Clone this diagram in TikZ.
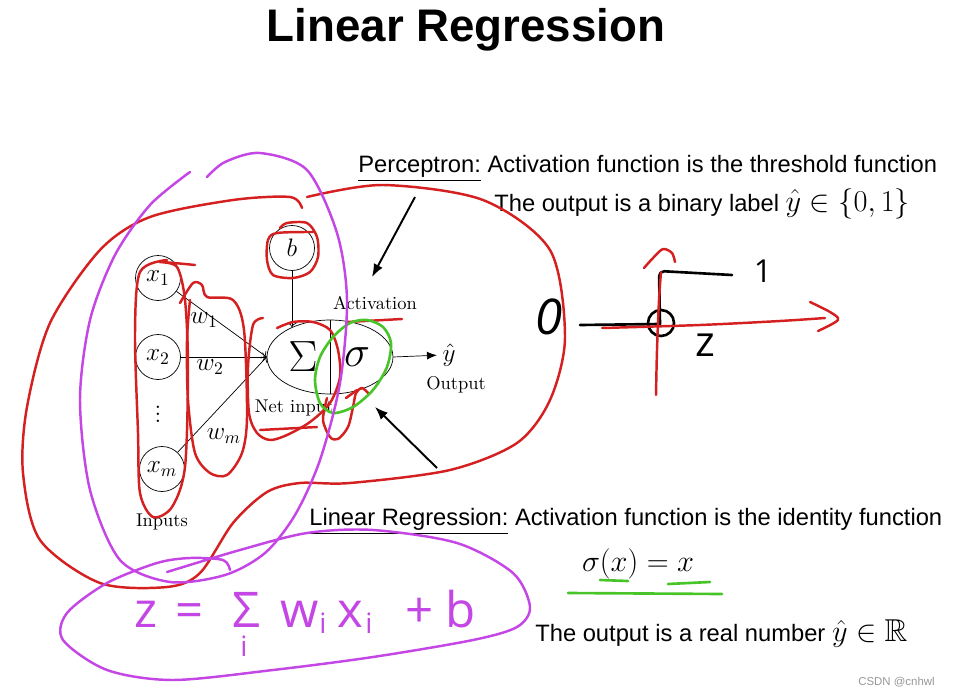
\documentclass[tikz,border=0pt]{standalone}
\usepackage{amssymb}
\usepackage{amsmath}
\usepackage{fontspec}
\usepackage{tikz}
\newfontfamily\slidefont{Liberation Sans}
\newfontfamily\handfont{Open Sans}
\usetikzlibrary{shapes.geometric,arrows.meta}
\definecolor{PenRed}{RGB}{212,32,32}
\definecolor{PenPurple}{RGB}{196,70,228}
\definecolor{PenGreen}{RGB}{72,196,40}
\definecolor{MarkGray}{RGB}{150,150,150}

\begin{document}
\begin{tikzpicture}[x=0.02cm,y=-0.02cm,inner sep=0pt,
  unit/.style={circle,draw=black,minimum size=0.9cm,font=\fontsize{14}{16}\selectfont},
  lbl/.style={font=\fontsize{10.5}{12}\selectfont},
  wlbl/.style={font=\fontsize{14}{16}\selectfont},
  slide/.style={anchor=base west,font=\slidefont\fontsize{13.5}{16}\selectfont},
  hand/.style={anchor=base,font=\handfont\fontsize{28}{30}\selectfont},
  handsub/.style={anchor=base,font=\handfont\fontsize{16}{18}\selectfont},
  redpen/.style={draw=PenRed,line width=1.4pt,line cap=round,line join=round},
  purplepen/.style={draw=PenPurple,line width=1.4pt,line cap=round,line join=round},
  greenpen/.style={draw=PenGreen,line width=1.5pt,line cap=round,line join=round},
  inkpen/.style={draw=black,line width=1.5pt,line cap=round,line join=round}]
\useasboundingbox (0,0) rectangle (956,696);
\node at (466,30) [font=\slidefont\bfseries\fontsize{26}{30}\selectfont] (Title) {Linear Regression};
\node at (358,172) [slide] (PercText) {\underline{Perceptron:} Activation function is the threshold function};
\node at (494,211) [slide] (PercOut) {The output is a binary label {\fontsize{19}{20}\selectfont$\hat{y}\in\{0,1\}$}};
\node at (309,525) [slide] (LinText) {\underline{Linear Regression:} Activation function is the identity function};
\node at (638,564) [font=\fontsize{17}{20}\selectfont] (Ident) {$\sigma(x)=x$};
\node at (535,641) [slide] (LinOut) {The output is a real number {\fontsize{18}{20}\selectfont$\hat{y}\in\mathbb{R}$}};
\node at (935,682) [anchor=east,text=MarkGray,font=\slidefont\fontsize{6.5}{8}\selectfont] (Mark) {CSDN @cnhwl};
\node at (158,278) [unit] (Input1) {$x_1$};
\node at (158,357) [unit] (Input2) {$x_2$};
\node at (158,409) [wlbl] (Dots) {$\vdots$};
\node at (162,469) [unit] (InputM) {$x_m$};
\node at (292,248) [unit] (Bias) {$b$};
\node at (330,357) [ellipse,draw=black,minimum width=2.52cm,minimum height=1.48cm] (Sum) {};
\node at (303,357) [font=\fontsize{30}{32}\selectfont] (SumSign) {$\Sigma$};
\node at (357,357) [font=\fontsize{34}{36}\selectfont] (Act) {$\sigma$};
\node at (449,355) [wlbl] (Yhat) {$\hat{y}$};
\node at (375,303) [lbl] (ActLabel) {Activation};
\node at (294,408) [lbl] (NetLabel) {Net input};
\node at (456,385) [lbl] (OutLabel) {Output};
\node at (162,522) [lbl] (InLabel) {Inputs};
\node at (204,320) [wlbl] (W1) {$w_1$};
\node at (210,367) [wlbl] (W2) {$w_2$};
\node at (224,436) [wlbl] (WM) {$w_m$};
\draw (Sum.north) -- (Sum.south);
\draw[->] (Input1) -- (Sum.west);
\draw[->] (Input2) -- (Sum.west);
\draw[->] (InputM) -- (Sum.west);
\draw[->] (Bias) -- (Bias |- Sum.142);
\draw[-{Latex[length=2mm,width=1.6mm]},shorten >=3pt] (Sum.east) -- (Yhat.west);
\coordinate (PercFrom) at (415,197);
\coordinate (PercTo) at (372,277);
\coordinate (LinFrom) at (437,468);
\coordinate (LinTo) at (375,407);
\draw[line width=1.1pt,-{Latex[length=2.6mm,width=2mm]}] (PercFrom) -- (PercTo);
\draw[line width=1.1pt,-{Latex[length=2.6mm,width=2mm]}] (LinFrom) -- (LinTo);
\node at (549,334) [hand,font=\handfont\itshape\fontsize{28}{30}\selectfont] (Zero) {0};
\node at (763,282) [hand,font=\handfont\fontsize{18}{20}\selectfont] (One) {1};
\node at (705,356) [hand,font=\handfont\fontsize{24}{26}\selectfont] (Zed) {z};
\draw[inkpen] (580,325) -- (660,324);
\draw[inkpen,rounded corners=3pt] (660,324) -- (659,271) -- (732,275);
\draw[inkpen] (661,323) circle (0.26cm);
\draw[redpen] plot[smooth] coordinates {(602,328) (700,325) (780,321) (825,318)};
\draw[redpen] plot[smooth] coordinates {(810,302) (830,312) (838,320) (818,331)};
\draw[redpen] plot[smooth] coordinates {(656,395) (657,350) (659,300) (661,272)};
\draw[redpen] plot[smooth] coordinates {(644,268) (653,258) (663,249) (672,253) (675,262)};
\draw[redpen] plot[smooth] coordinates {(307,197) (383,185) (483,200) (550,250) (565,337) (550,400) (517,443) (450,470) (350,483) (300,483) (267,492) (233,523) (200,573) (167,587) (100,583) (40,540) (23,473) (27,407) (50,323) (100,250) (150,217) (233,200) (290,197) (302,208)};
\draw[redpen] plot[smooth] coordinates {(167,260) (140,272) (135,333) (138,433) (140,493) (153,517) (172,507) (185,467) (188,367) (185,300) (177,267) (160,262) (195,265)};
\draw[redpen] plot[smooth] coordinates {(180,303) (193,283) (202,285) (207,297) (233,300) (244,330) (247,417) (242,453) (227,475) (210,473) (195,453) (188,400) (187,340) (190,300)};
\draw[redpen] plot[smooth] coordinates {(263,318) (253,325) (248,367) (249,413) (257,433) (270,440) (287,435) (310,422) (330,403) (340,377) (338,350) (330,330) (313,322) (293,322) (277,328)};
\draw[redpen] (260,430) -- (317,427);
\draw[redpen] (347,322) -- (402,319);
\draw[redpen] plot[smooth] coordinates {(327,398) (323,420) (330,437) (338,439) (348,427) (353,407) (356,393) (362,388) (368,393)};
\draw[redpen] (346,398) -- (357,390);
\draw[redpen] plot[smooth] coordinates {(280,228) (287,223) (307,223) (317,237) (318,257) (310,272) (293,278) (273,275) (267,260) (268,240) (277,233) (313,232)};
\draw[greenpen] plot[smooth cycle] coordinates {(367,320) (383,327) (391,343) (387,367) (373,390) (353,407) (333,413) (320,403) (315,380) (320,357) (333,337) (350,323)};
\draw[greenpen] (600,580) -- (628,581);
\draw[greenpen] (668,584) -- (710,582);
\draw[greenpen] (568,593) -- (722,594);
\draw[purplepen] plot[smooth] coordinates {(190,172) (150,205) (115,255) (90,320) (80,400) (90,490) (120,560) (170,582) (225,575) (265,553) (295,515) (320,460) (340,383) (347,300) (337,233) (307,170) (260,153) (225,162) (207,177)};
\draw[purplepen] plot[smooth] coordinates {(167,572) (240,550) (307,533) (373,530) (457,543) (513,573) (530,607) (517,627) (473,640) (373,657) (273,670) (173,680) (107,670) (63,640) (67,613) (107,583) (157,563) (190,558) (223,560) (230,570)};
\node at (146,627) [hand,text=PenPurple] (FZ) {z};
\node at (190,627) [hand,text=PenPurple] (FEq) {=};
\node at (246,627) [hand,text=PenPurple] (FSum) {Σ};
\node at (244,656) [handsub,text=PenPurple] (FSumI) {i};
\node at (300,627) [hand,text=PenPurple] (FW) {w};
\node at (323,633) [handsub,text=PenPurple] (FWI) {i};
\node at (350,627) [hand,text=PenPurple] (FX) {x};
\node at (369,633) [handsub,text=PenPurple] (FXI) {i};
\node at (420,627) [hand,text=PenPurple] (FPlus) {+};
\node at (461,627) [hand,text=PenPurple] (FB) {b};
\end{tikzpicture}
\end{document}
